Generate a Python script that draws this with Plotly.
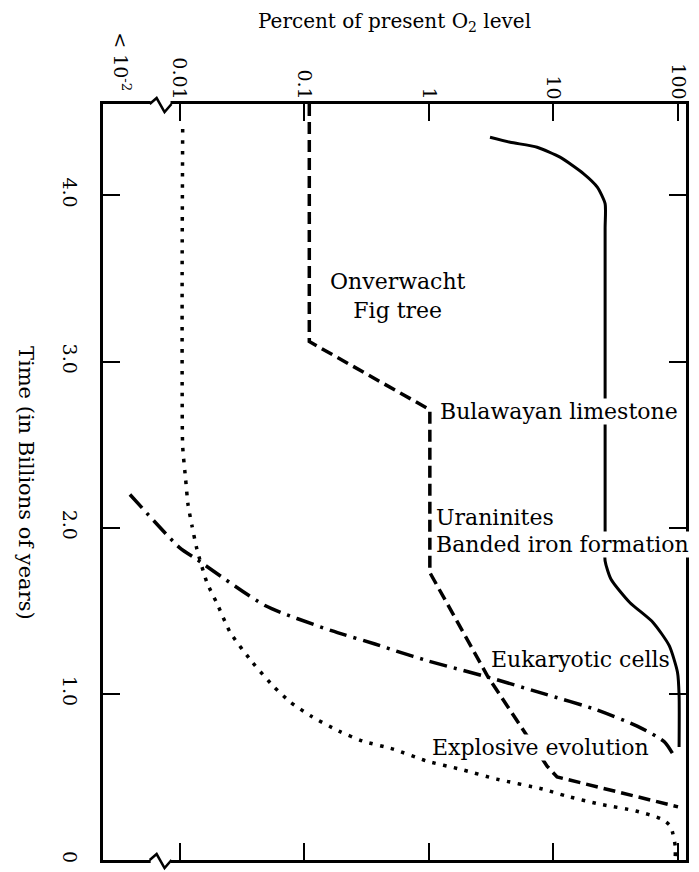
import plotly.graph_objects as go

# ---- data ----
x_tick_vals = [0.01, 0.1, 1, 10, 100]
x_tick_text = ["0.01", "0.1", "1", "10", "100"]
y_tick_vals = [0, 1, 2, 3, 4]
y_tick_text = ["0", "1.0", "2.0", "3.0", "4.0"]

solid_time = [4.35, 4.32, 4.29, 4.23, 4.13, 4.05, 3.95, 3.80, 1.95, 1.80, 1.69, 1.55, 1.43, 1.29, 1.13, 0.99, 0.68]
solid_pct = [3.1, 4.5, 7.4, 11.3, 17.5, 22.5, 26.0, 26.0, 26.0, 26.0, 29.0, 41.0, 63.0, 85.0, 99.0, 102.0, 102.0]

dash_time = [4.55, 3.12, 2.71, 1.73, 1.10, 0.565, 0.50, 0.32]
dash_pct = [0.11, 0.11, 1.02, 1.02, 3.0, 8.9, 10.7, 100.0]

dd_time = [2.20, 1.88, 1.81, 1.53, 1.38, 1.30, 1.257, 1.197, 1.10, 0.998, 0.908, 0.806, 0.71, 0.607]
dd_pct = [0.004, 0.010, 0.0137, 0.049, 0.166, 0.37, 0.55, 1.0, 3.0, 8.6, 21.4, 47.0, 78.0, 96.0]

dot_time = [4.40, 3.61, 2.84, 2.49, 2.29, 2.14, 2.01, 1.87, 1.67, 1.54, 1.37, 1.19, 1.046, 0.95,
            0.866, 0.776, 0.716, 0.667, 0.595, 0.547, 0.487, 0.427, 0.385, 0.337, 0.295, 0.247,
            0.205, 0.157, 0.084, 0.02]
dot_pct = [0.0106, 0.0105, 0.0105, 0.0106, 0.0112, 0.0117, 0.0126, 0.0138, 0.0166, 0.0201, 0.0255,
           0.0384, 0.0566, 0.0776, 0.1135, 0.19, 0.294, 0.52, 0.97, 1.78, 3.5, 8.2, 12.7, 23.3,
           45.9, 73.8, 87.0, 91.0, 95.0, 95.0]

labels = ["Onverwacht<br>Fig tree", "Bulawayan limestone", "Uraninites", "Banded iron formation",
          "Eukaryotic cells", "Explosive evolution"]

FONT = "DejaVu Serif"
# page body has an 8px margin; figure is sized to fill the rest of the 699x872 window
OFF = 8
W, H = 699 - OFF, 872 - OFF
# plot area in window pixels
PL, PR, PT, PB = 103, 690, 104, 861

def px(x):
    return (x - PL) / (PR - PL)

def py(y):
    return (PB - y) / (PB - PT)

fig = go.Figure()
fig.add_trace(go.Scatter(x=solid_pct, y=solid_time, mode="lines",
                         line=dict(color="black", width=3, shape="spline", smoothing=0.6)))
fig.add_trace(go.Scatter(x=dash_pct, y=dash_time, mode="lines",
                         line=dict(color="black", width=3.5, dash="12px,6px")))
fig.add_trace(go.Scatter(x=dd_pct, y=dd_time, mode="lines",
                         line=dict(color="black", width=3.5, dash="18px,7px,3px,7px",
                                   shape="spline", smoothing=0.6)))
fig.add_trace(go.Scatter(x=dot_pct, y=dot_time, mode="lines",
                         line=dict(color="black", width=3.5, dash="3.5px,7.5px",
                                   shape="spline", smoothing=0.6)))

axis_common = dict(showline=True, linecolor="black", linewidth=2.5, mirror="allticks",
                   ticks="inside", ticklen=17, tickwidth=2, tickcolor="black",
                   showgrid=False, zeroline=False, tickangle=90,
                   tickfont=dict(family=FONT, size=19, color="black"))

fig.update_layout(
    width=W, height=H,
    margin=dict(l=PL - OFF, r=699 - PR, t=PT - OFF, b=872 - PB),
    paper_bgcolor="white", plot_bgcolor="white",
    showlegend=False,
    xaxis=dict(type="log", side="top", range=[-2.614, 2.064],
               tickvals=x_tick_vals, ticktext=x_tick_text, ticklabelstandoff=-5, **axis_common),
    yaxis=dict(range=[0, 4.55], tickvals=y_tick_vals, ticktext=y_tick_text,
               ticklabelstandoff=14, **axis_common),
)

ann_font = dict(family=FONT, size=22, color="black")
annotations = [
    dict(text=labels[0], x=px(400), y=py(296), xanchor="center", yanchor="middle", align="center"),
    dict(text=labels[1], x=px(441), y=py(412), xanchor="left", yanchor="middle", bgcolor="white"),
    dict(text=labels[2], x=px(437), y=py(518), xanchor="left", yanchor="middle"),
    dict(text=labels[3], x=px(437), y=py(545), xanchor="left", yanchor="middle", bgcolor="white"),
    dict(text=labels[4], x=px(493), y=py(660), xanchor="left", yanchor="middle"),
    dict(text=labels[5], x=px(433), y=py(748), xanchor="left", yanchor="middle", bgcolor="white"),
]
for a in annotations:
    a.update(xref="paper", yref="paper", showarrow=False, font=ann_font, borderpad=0)

title_font = dict(family=FONT, size=20, color="black")
annotations += [
    dict(text="Percent of present O<sub>2</sub> level", x=px(397), y=py(22), xref="paper", yref="paper",
         showarrow=False, xanchor="center", yanchor="middle", font=title_font),
    dict(text="Time (in Billions of years)", x=px(25), y=py(483), xref="paper", yref="paper",
         showarrow=False, xanchor="center", yanchor="middle", textangle=90,
         font=dict(family=FONT, size=21, color="black")),
    dict(text="< 10<sup>-2</sup>", x=px(122), y=py(62), xref="paper", yref="paper",
         showarrow=False, xanchor="center", yanchor="middle", textangle=90,
         font=dict(family=FONT, size=19, color="black")),
]
fig.update_layout(annotations=annotations)

# axis break marks
shapes = []
for y0 in (PT, PB):
    shapes.append(dict(type="rect", xref="paper", yref="paper", x0=px(151), x1=px(171),
                       y0=py(y0 + 3), y1=py(y0 - 3), fillcolor="white", line=dict(width=0),
                       layer="above"))
    path = "M {:.4f},{:.4f} L {:.4f},{:.4f} L {:.4f},{:.4f} L {:.4f},{:.4f}".format(
        px(150), py(y0), px(157), py(y0 - 6), px(165), py(y0 + 8), px(172), py(y0))
    shapes.append(dict(type="path", xref="paper", yref="paper", path=path,
                       line=dict(color="black", width=2.5), layer="above"))
fig.update_layout(shapes=shapes)

fig.write_html("out.html")
